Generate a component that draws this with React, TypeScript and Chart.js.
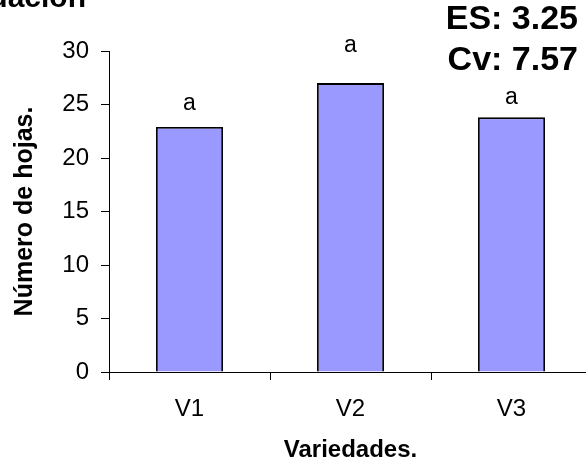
import React, { useEffect, useRef } from "react";
import { Chart, registerables } from "chart.js";

Chart.register(...registerables);

const categories = ["V1", "V2", "V3"];
const values = [22.9, 27.0, 23.8];
const letters = ["a", "a", "a"];
const letterY = [25.1, 30.5, 25.6];
const yTicks = [0, 5, 10, 15, 20, 25, 30];
const statLines = ["ES: 3.25", "Cv: 7.57"];
const cutTitle = "Evaluación";
const yTitle = "Número de hojas.";
const xTitle = "Variedades.";

const FONT = "'Liberation Sans', Arial, sans-serif";

const annotations = {
  id: "annotations",
  afterDatasetsDraw(chart: any) {
    const ctx = chart.ctx;
    const x = chart.scales.x;
    const y = chart.scales.y;
    ctx.save();
    ctx.fillStyle = "#000";
    ctx.font = `23px ${FONT}`;
    ctx.textAlign = "center";
    ctx.textBaseline = "middle";
    letters.forEach((l, i) => {
      ctx.fillText(l, x.getPixelForValue(i), y.getPixelForValue(letterY[i]));
    });
    ctx.font = `bold 34px ${FONT}`;
    ctx.textAlign = "right";
    ctx.textBaseline = "alphabetic";
    ctx.fillText(statLines[0], 578, 29);
    ctx.fillText(statLines[1], 578, 70);
    ctx.font = `bold 30px ${FONT}`;
    ctx.fillText(cutTitle, 86, 7);
    ctx.restore();
  },
};

export default function App() {
  const ref = useRef<HTMLCanvasElement>(null);
  useEffect(() => {
    const chart = new Chart(ref.current as HTMLCanvasElement, {
      type: "bar",
      data: {
        labels: categories,
        datasets: [
          {
            data: values,
            backgroundColor: "#9999FF",
            borderColor: "#000",
            borderWidth: 1.8,
            categoryPercentage: 1,
            barPercentage: 0.416,
          },
        ],
      },
      options: {
        animation: false,
        responsive: false,
        devicePixelRatio: 1,
        layout: { padding: { top: 51, right: 8, left: 0, bottom: 0 } },
        plugins: {
          legend: { display: false },
          tooltip: { enabled: false },
        },
        scales: {
          x: {
            offset: true,
            grid: {
              offset: true,
              drawOnChartArea: false,
              drawTicks: true,
              tickLength: 8,
              color: "#000",
            },
            border: { color: "#000", width: 1 },
            ticks: {
              color: "#000",
              font: { family: FONT, size: 24 },
              padding: 15,
            },
            title: {
              display: true,
              text: xTitle,
              color: "#000",
              font: { family: FONT, size: 24, weight: "bold" },
              padding: { top: 12, bottom: -4 },
            },
            afterFit(scale: any) {
              scale.height = 89;
            },
          },
          y: {
            min: 0,
            max: 30,
            afterBuildTicks(scale: any) {
              scale.ticks = yTicks.map((v) => ({ value: v }));
            },
            grid: {
              drawOnChartArea: false,
              drawTicks: true,
              tickLength: 8,
              color: "#000",
            },
            border: { color: "#000", width: 1 },
            ticks: {
              color: "#000",
              font: { family: FONT, size: 24 },
              padding: 12,
            },
            title: {
              display: true,
              text: yTitle,
              color: "#000",
              font: { family: FONT, size: 25, weight: "bold" },
              padding: { top: 10, bottom: 6 },
            },
            afterFit(scale: any) {
              scale.width = 109;
            },
          },
        },
      },
      plugins: [annotations],
    });
    return () => chart.destroy();
  }, []);
  return (
    <div
      style={{
        position: "fixed",
        left: 0,
        top: 0,
        width: 586,
        height: 461,
        overflow: "hidden",
        background: "#fff",
      }}
    >
      <canvas ref={ref} width={600} height={461} style={{ display: "block" }} />
    </div>
  );
}
